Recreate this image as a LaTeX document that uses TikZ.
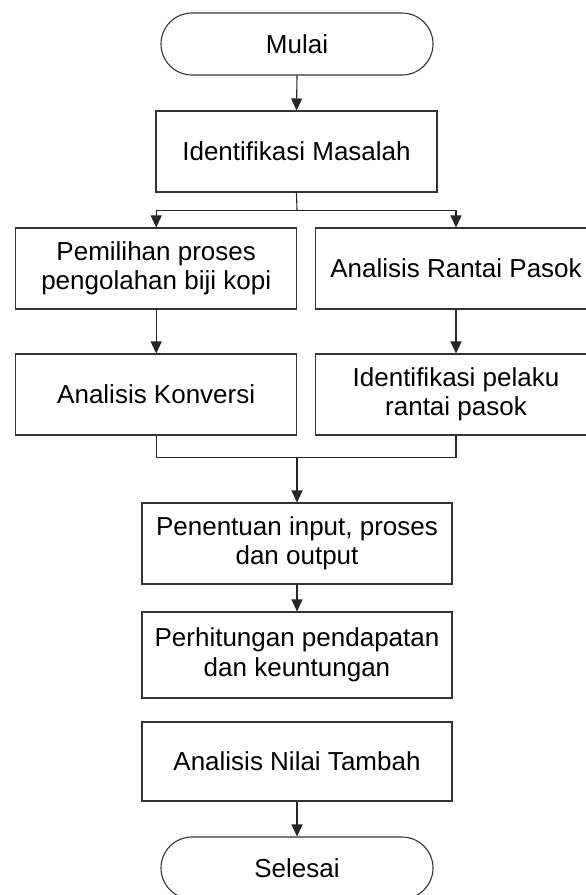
\documentclass[tikz,border=0pt]{standalone}
\usepackage{fontspec}
\setmainfont{Liberation Sans}
\usetikzlibrary{arrows.meta}

\begin{document}
\begin{tikzpicture}[
  x=1pt, y=-1pt,
  every node/.style={font=\fontsize{26pt}{29.5pt}\selectfont, align=center, inner sep=0pt},
  procbox/.style={draw=black!80, line width=1.1pt, rectangle, minimum height=81pt},
  colbox/.style={procbox, minimum width=281pt},
  midbox/.style={procbox, minimum width=310pt},
  terminal/.style={draw=black!80, line width=1.1pt, rectangle, rounded corners=31pt,
                   minimum width=272pt, minimum height=62pt},
  flow/.style={draw=black!85, line width=1.1pt},
  arr/.style={flow, -{Triangle[width=11pt,length=12pt]}}
]
\useasboundingbox (0,0) rectangle (586,895);
\clip (0,0) rectangle (586,895);

% main column, top part
\node[terminal] (mulai) at (297,44) {Mulai};
\node[colbox] (ident) at (296.5,151.5) {Identifikasi Masalah};

% two parallel branches
\node[colbox] (pilih)  at (156.2,268.5) {Pemilihan proses\\pengolahan biji kopi};
\node[colbox] (rantai) at (456,268.5) {Analisis Rantai Pasok};
\node[colbox] (konv)   at (156.2,394.5) {Analisis Konversi};
\node[colbox] (pelaku) at (456,394.5) {Identifikasi pelaku\\rantai pasok};

% main column, lower part
\node[midbox] (tentu)  at (297,543.5) {Penentuan input, proses\\dan output};
\node[midbox, minimum height=86pt] (hitung) at (297,655) {Perhitungan pendapatan\\dan keuntungan};
\node[midbox, minimum height=79pt] (nilai)  at (297,761.5) {Analisis Nilai Tambah};
\node[terminal] (selesai) at (297,868) {Selesai};

% branching and merging points
\coordinate (split) at (297,210.5);
\coordinate (merge) at (297,457.5);

% connectors
\draw[arr] (mulai.south) -- (ident.north);
\draw[flow] (ident.south) -- (split);
\draw[arr] (split) -| (pilih.north);
\draw[arr] (split) -| (rantai.north);
\draw[arr] (pilih.south) -- (konv.north);
\draw[arr] (rantai.south) -- (pelaku.north);
\draw[flow] (konv.south) |- (merge) -| (pelaku.south);
\draw[arr] (merge) -- (tentu.north);
\draw[arr] (tentu.south) -- (hitung.north);
\draw[arr] (nilai.south) -- (selesai.north);
\end{tikzpicture}
\end{document}
